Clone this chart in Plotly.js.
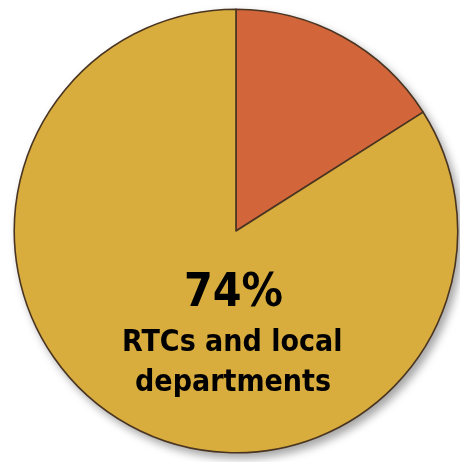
<!DOCTYPE html>
<html>
<head>
<meta charset="utf-8">
<script src="https://cdn.plot.ly/plotly-3.0.1.min.js"></script>
<style>
html,body{margin:0;padding:0;background:#fff;}
#chart{width:460px;height:462px;filter:drop-shadow(4px 5px 4px rgba(0,0,0,0.35));}
</style>
</head>
<body>
<div id="chart"></div>
<script>
const categories = ["Other", "RTCs and local departments"];
const shares = [16, 84];
const sliceColors = ["#D2653A", "#D8AD3E"];
const bigLabel = "74%";
const labelLines = ["RTCs and local", "departments"];

const font = "'Liberation Sans Narrow', 'DejaVu Sans Condensed', 'Roboto Condensed', Arial, sans-serif";

const data = [{
  type: "pie",
  labels: categories,
  values: shares,
  sort: false,
  direction: "clockwise",
  rotation: 0,
  textinfo: "none",
  hoverinfo: "none",
  marker: {colors: sliceColors, line: {color: "#4a3522", width: 1.6}},
  domain: {x: [0.031, 0.995], y: [0.02, 0.98]},
  showlegend: false
}];

function ann(text, px, py, size) {
  return {text: "<b>" + text + "</b>", x: px/460, y: 1 - py/462, xref: "paper", yref: "paper",
    xanchor: "center", yanchor: "middle", showarrow: false,
    font: {family: font, size: size, color: "#000"}};
}

const layout = {
  width: 460, height: 462,
  margin: {l: 0, r: 0, t: 0, b: 0},
  paper_bgcolor: "rgba(0,0,0,0)",
  plot_bgcolor: "rgba(0,0,0,0)",
  showlegend: false,
  annotations: [
    ann(bigLabel, 234, 290, 46),
    ann(labelLines[0], 233, 340, 30),
    ann(labelLines[1], 233, 380, 30)
  ]
};

Plotly.newPlot("chart", data, layout, {displayModeBar: false, staticPlot: true});
</script>
</body>
</html>
